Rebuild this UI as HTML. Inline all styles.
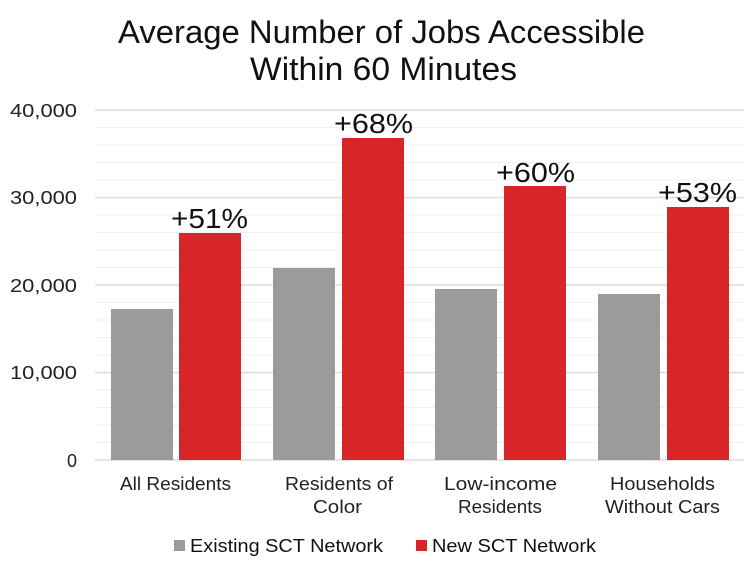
<!DOCTYPE html>
<html><head><meta charset="utf-8"><style>
html,body{margin:0;padding:0;background:#fff;}
svg{display:block;font-family:"Liberation Sans",sans-serif;}
</style></head><body>
<svg width="756" height="566" viewBox="0 0 756 566">
<g font-size="32" fill="#111">
<text x="118" y="43" textLength="527" lengthAdjust="spacingAndGlyphs">Average Number of Jobs Accessible</text>
<text x="250" y="80" textLength="267" lengthAdjust="spacingAndGlyphs">Within 60 Minutes</text>
</g>
<g stroke="#f0f0f0" stroke-width="1">
<line x1="95" x2="744" y1="127.5" y2="127.5"/><line x1="95" x2="744" y1="145" y2="145"/><line x1="95" x2="744" y1="162.5" y2="162.5"/><line x1="95" x2="744" y1="180" y2="180"/>
<line x1="95" x2="744" y1="215" y2="215"/><line x1="95" x2="744" y1="232.5" y2="232.5"/><line x1="95" x2="744" y1="250" y2="250"/><line x1="95" x2="744" y1="267.5" y2="267.5"/>
<line x1="95" x2="744" y1="302.5" y2="302.5"/><line x1="95" x2="744" y1="320" y2="320"/><line x1="95" x2="744" y1="337.5" y2="337.5"/><line x1="95" x2="744" y1="355" y2="355"/>
<line x1="95" x2="744" y1="390" y2="390"/><line x1="95" x2="744" y1="407.5" y2="407.5"/><line x1="95" x2="744" y1="425" y2="425"/><line x1="95" x2="744" y1="442.5" y2="442.5"/>
</g>
<g stroke="#dcdcdc" stroke-width="1.5">
<line x1="95" x2="744" y1="110" y2="110"/><line x1="95" x2="744" y1="197.5" y2="197.5"/><line x1="95" x2="744" y1="285" y2="285"/><line x1="95" x2="744" y1="372.5" y2="372.5"/><line x1="95" x2="744" y1="460" y2="460"/>
</g>
<g font-size="18" fill="#222">
<text x="10" y="117" textLength="67" lengthAdjust="spacingAndGlyphs">40,000</text>
<text x="10" y="204" textLength="67" lengthAdjust="spacingAndGlyphs">30,000</text>
<text x="10" y="292" textLength="67" lengthAdjust="spacingAndGlyphs">20,000</text>
<text x="10" y="379" textLength="67" lengthAdjust="spacingAndGlyphs">10,000</text>
<text x="77" y="467" text-anchor="end">0</text>
</g>
<g fill="#9b9b9b">
<rect x="111" y="309" width="62" height="151"/><rect x="273" y="268" width="62" height="192"/><rect x="435" y="289" width="62" height="171"/><rect x="598" y="294" width="62" height="166"/>
</g>
<g fill="#d72528">
<rect x="179" y="233" width="62" height="227"/><rect x="342" y="138" width="62" height="322"/><rect x="504" y="186" width="62" height="274"/><rect x="667" y="207" width="62" height="253"/>
</g>
<g font-size="28" fill="#111">
<text x="171" y="228" textLength="77" lengthAdjust="spacingAndGlyphs">+51%</text>
<text x="334" y="133" textLength="79" lengthAdjust="spacingAndGlyphs">+68%</text>
<text x="496" y="182" textLength="79" lengthAdjust="spacingAndGlyphs">+60%</text>
<text x="658" y="202" textLength="79" lengthAdjust="spacingAndGlyphs">+53%</text>
</g>
<g font-size="18" fill="#222">
<text x="120" y="490" textLength="111" lengthAdjust="spacingAndGlyphs">All Residents</text>
<text x="285" y="490" textLength="108" lengthAdjust="spacingAndGlyphs">Residents of</text>
<text x="313" y="513" textLength="49" lengthAdjust="spacingAndGlyphs">Color</text>
<text x="444" y="490" textLength="113" lengthAdjust="spacingAndGlyphs">Low-income</text>
<text x="458" y="513" textLength="84" lengthAdjust="spacingAndGlyphs">Residents</text>
<text x="610" y="490" textLength="105" lengthAdjust="spacingAndGlyphs">Households</text>
<text x="605" y="513" textLength="115" lengthAdjust="spacingAndGlyphs">Without Cars</text>
</g>
<rect x="174" y="540" width="11" height="11" fill="#9b9b9b"/>
<text x="190" y="552" font-size="18" fill="#111" textLength="193" lengthAdjust="spacingAndGlyphs">Existing SCT Network</text>
<rect x="416" y="540" width="11" height="11" fill="#d72528"/>
<text x="432" y="552" font-size="18" fill="#111" textLength="164" lengthAdjust="spacingAndGlyphs">New SCT Network</text>
</svg>
</body></html>
